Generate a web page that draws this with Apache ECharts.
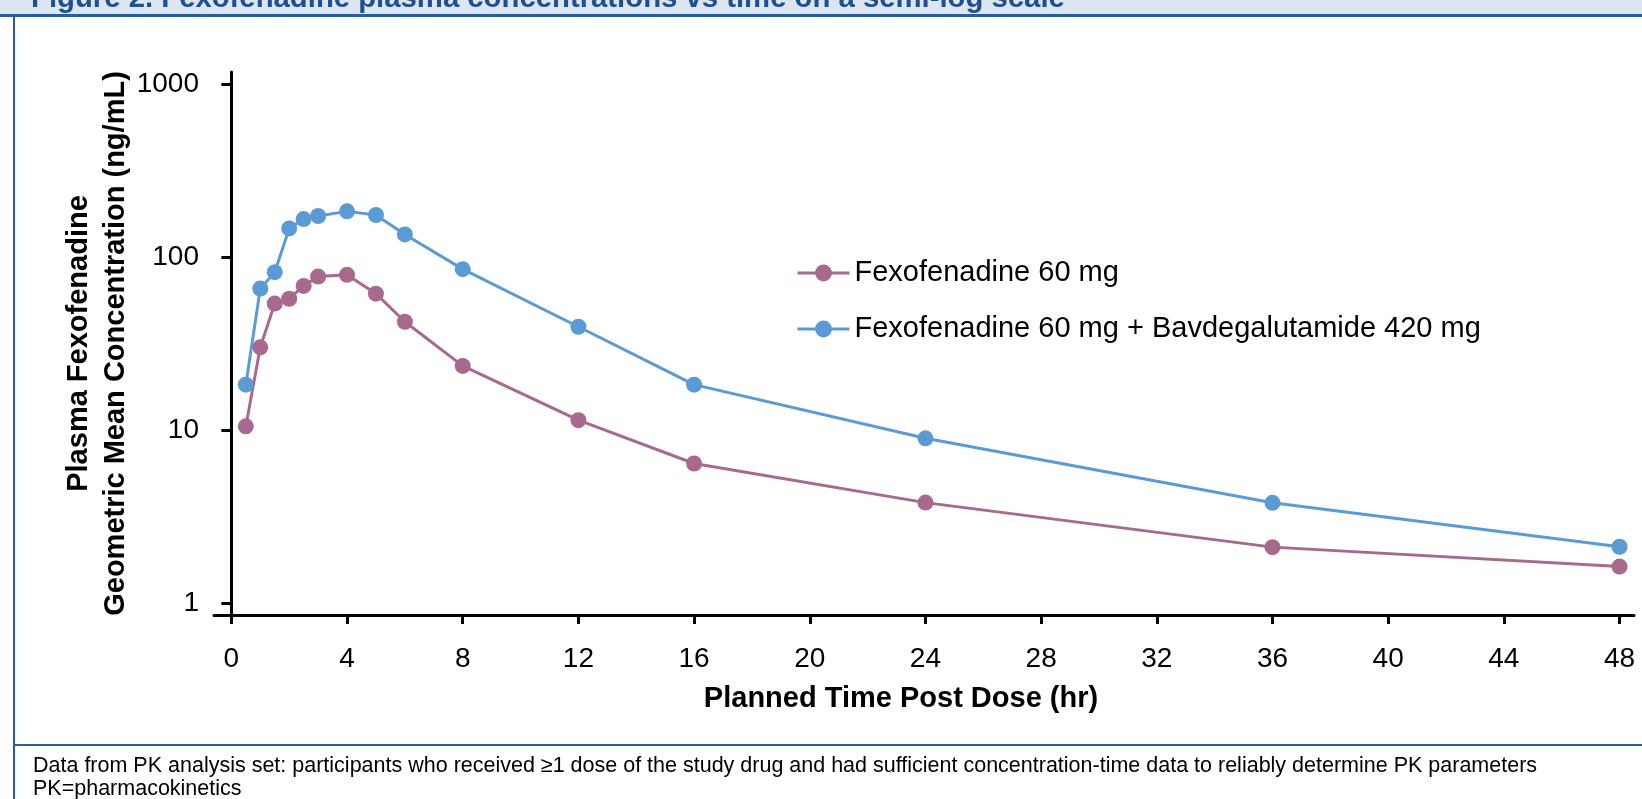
<!DOCTYPE html>
<html>
<head>
<meta charset="utf-8">
<script src="https://cdn.jsdelivr.net/npm/echarts@6/dist/echarts.min.js"></script>
<style>
  html, body { margin: 0; padding: 0; background: #fff; }
  #chart { width: 1642px; height: 799px; }
</style>
</head>
<body>
<div id="chart"></div>
<script>
// planned sampling times (hr)
var timeHours = [0.5, 1, 1.5, 2, 2.5, 3, 4, 5, 6, 8, 12, 16, 24, 36, 48];
// geometric mean concentrations (ng/mL)
var fexoAlone = [10.5, 30.1, 53.9, 57.5, 68.2, 77.3, 79.1, 61.5, 42.3, 23.5, 11.4, 6.4, 3.8, 2.1, 1.62];
var fexoWithBavd = [18.3, 65.8, 81.9, 146.8, 166.3, 173.2, 184.2, 175.5, 135.5, 85.3, 39.6, 18.3, 8.95, 3.79, 2.11];
var seriesNames = ['Fexofenadine 60 mg', 'Fexofenadine 60 mg + Bavdegalutamide 420 mg'];
var xTicks = [0, 4, 8, 12, 16, 20, 24, 28, 32, 36, 40, 44, 48];
var yTicks = [1, 10, 100, 1000];

var FONT = '"Liberation Sans", Arial, sans-serif';
var frameBlue = '#2a5e9a';

function pairs(values) {
  return timeHours.map(function (t, i) { return [t, values[i]]; });
}

var chart = echarts.init(document.getElementById('chart'));

var option = {
  animation: false,
  textStyle: { fontFamily: FONT },
  color: ['#a8698f', '#5b9bd5'],
  grid: { left: 214, right: 8, top: 72, bottom: 184 },
  legend: {
    orient: 'vertical',
    left: 791,
    top: 253,
    itemWidth: 52,
    itemHeight: 21,
    itemGap: 26,
    lineStyle: { width: 3 },
    textStyle: { fontSize: 29, color: '#000', fontFamily: FONT, lineHeight: 30 },
    data: seriesNames
  },
  xAxis: {
    type: 'value',
    min: -0.6,
    max: 48.5,
    name: 'Planned Time Post Dose (hr)',
    nameLocation: 'middle',
    nameGap: 69,
    nameTextStyle: { fontSize: 29, fontWeight: 'bold', color: '#000', padding: [0, 46, 0, 0] },
    splitLine: { show: false },
    axisLine: { onZero: false, lineStyle: { color: '#000', width: 3 } },
    axisTick: { customValues: xTicks, length: 9, lineStyle: { color: '#000', width: 3 } },
    axisLabel: { customValues: xTicks, fontSize: 28, color: '#000', margin: 30 }
  },
  yAxis: {
    type: 'log',
    logBase: 10,
    min: 0.85,
    max: 1180,
    name: 'Plasma Fexofenadine\nGeometric Mean Concentration (ng/mL)',
    nameLocation: 'middle',
    nameRotate: 90,
    nameGap: 80,
    nameMoveOverlap: false,
    nameTextStyle: { fontSize: 29, fontWeight: 'bold', color: '#000', lineHeight: 37 },
    splitLine: { show: false },
    axisLine: { show: true, lineStyle: { color: '#000', width: 3 } },
    axisTick: { show: true, customValues: yTicks, length: 10, lineStyle: { color: '#000', width: 3 } },
    axisLabel: {
      customValues: yTicks,
      fontSize: 28,
      color: '#000',
      margin: 15,
      formatter: function (v) { return String(Math.round(v)); }
    }
  },
  series: [
    {
      name: seriesNames[0],
      type: 'line',
      data: pairs(fexoAlone),
      symbol: 'circle',
      symbolSize: 16,
      lineStyle: { width: 3 }
    },
    {
      name: seriesNames[1],
      type: 'line',
      data: pairs(fexoWithBavd),
      symbol: 'circle',
      symbolSize: 16,
      lineStyle: { width: 3 }
    }
  ],
  graphic: [
    // header band with the clipped figure title
    { type: 'rect', shape: { x: 0, y: 0, width: 1642, height: 14 }, style: { fill: '#dce6f2' } },
    { type: 'text', style: { x: 31, y: -1, text: 'Figure 2. Fexofenadine plasma concentrations vs time on a semi-log scale', font: 'bold 29.3px ' + FONT, fill: '#1f4f8f', verticalAlign: 'middle' } },
    { type: 'rect', shape: { x: 0, y: 14, width: 1642, height: 3 }, style: { fill: frameBlue } },
    // left frame edge and footnote divider
    { type: 'rect', shape: { x: 13, y: 14, width: 2, height: 785 }, style: { fill: frameBlue } },
    { type: 'rect', shape: { x: 14, y: 744, width: 1628, height: 2 }, style: { fill: frameBlue } },
    { type: 'text', style: { x: 33, y: 766, text: 'Data from PK analysis set: participants who received \u22651 dose of the study drug and had sufficient concentration-time data to reliably determine PK parameters', font: '21.5px ' + FONT, fill: '#000', verticalAlign: 'middle' } },
    { type: 'text', style: { x: 33, y: 789, text: 'PK=pharmacokinetics', font: '21.5px ' + FONT, fill: '#000', verticalAlign: 'middle' } }
  ]
};

chart.setOption(option);
</script>
</body>
</html>
